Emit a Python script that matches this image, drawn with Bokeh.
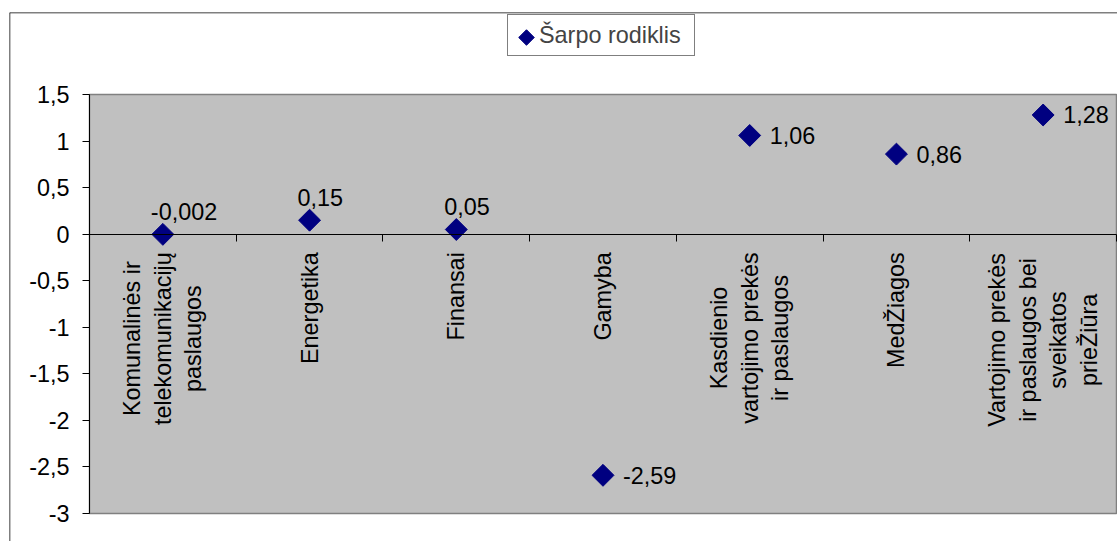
import math

from bokeh.core.properties import value
from bokeh.embed import file_html
from bokeh.models import (ColumnDataSource, CustomJSTickFormatter, FixedTicker, Legend,
                          LegendItem, LinearAxis, Range1d, Span)
from bokeh.plotting import figure
from bokeh.resources import INLINE

# ---- data -------------------------------------------------------------
categories = [
    "Komunalinės ir\ntelekomunikacijų\npaslaugos",
    "Energetika",
    "Finansai",
    "Gamyba",
    "Kasdienio\nvartojimo prekės\nir paslaugos",
    "MedŽiagos",
    "Vartojimo prekės\nir paslaugos bei\nsveikatos\nprieŽiūra",
]
sharpe = [-0.002, 0.15, 0.05, -2.59, 1.06, 0.86, 1.28]
label_side = ["above", "above", "above", "right", "right", "right", "right"]
y_ticks = [-3, -2.5, -2, -1.5, -1, -0.5, 0, 0.5, 1, 1.5]
series_name = "Šarpo rodiklis"

# ---- styling ----------------------------------------------------------
FONT = "Liberation Sans"
FS = 23.4
FS_TXT = f"{FS}px"
MARKER = "#000080"
PLOT_BG = "#C0C0C0"

W, H = 1117, 541
BORDER_L, BORDER_T = 9, 12

# Arial / Liberation Sans advance widths (1/1000 em), used to centre the
# rotated multi-line category labels line by line.
ADV = {
    " ": 278, "a": 556, "b": 556, "c": 500, "d": 556, "e": 556, "g": 556, "i": 222,
    "j": 222, "k": 500, "l": 222, "m": 833, "n": 556, "o": 556, "p": 556, "r": 333,
    "s": 500, "t": 278, "u": 556, "v": 500, "y": 500, "z": 500, "ė": 556, "ų": 556,
    "ū": 556, "ž": 500, "E": 667, "F": 611, "G": 778, "K": 667, "M": 833, "V": 667,
    "Ž": 611, "Š": 667,
}


def text_width(s):
    return sum(ADV.get(ch, 556) for ch in s) / 1000.0 * FS


n_cat = len(categories)
y_lo, y_hi = min(y_ticks), max(y_ticks)

# The frame spans the whole chart box; the grey plotting area sits inside it.
x_range = Range1d(-0.5453, n_cat + 0.0068)
y_range = Range1d(y_lo - 0.3007, y_hi + 0.8807)

p = figure(width=W, height=H, x_range=x_range, y_range=y_range,
           x_axis_type=None, y_axis_type=None, toolbar_location=None,
           output_backend="svg", min_border_left=BORDER_L, min_border_top=BORDER_T,
           min_border_right=0, min_border_bottom=0)
p.outline_line_color = None
p.background_fill_color = "white"
p.border_fill_color = "white"


def screen_to_data(sx, sy):
    """Frame pixel position -> data coordinates (used for the legend key)."""
    fw, fh = W - BORDER_L, H - BORDER_T
    dx = x_range.start + (sx - BORDER_L) / fw * (x_range.end - x_range.start)
    dy = y_range.end - (sy - BORDER_T) / fh * (y_range.end - y_range.start)
    return dx, dy


# chart box edges (left and top)
p.add_layout(Span(location=x_range.start, dimension="height", line_color="black", line_width=1.5))
p.add_layout(Span(location=y_range.end, dimension="width", line_color="black", line_width=1.5))

# grey plotting area
p.quad(left=0, right=n_cat, bottom=y_lo, top=y_hi, fill_color=PLOT_BG,
       line_color="#808080", line_width=1.5)

# value axis, crossing the category axis at x = 0
yaxis = LinearAxis(fixed_location=0, bounds=(y_lo, y_hi),
                   ticker=FixedTicker(ticks=y_ticks),
                   formatter=CustomJSTickFormatter(code="return tick.toString().replace('.', ',')"))
yaxis.axis_line_color = "black"
yaxis.axis_line_width = 1
yaxis.major_tick_line_color = "black"
yaxis.major_tick_in = 0
yaxis.major_tick_out = 7
yaxis.minor_tick_in = 0
yaxis.minor_tick_out = 0
yaxis.major_label_standoff = 13
yaxis.major_label_text_font = FONT
yaxis.major_label_text_font_size = FS_TXT
yaxis.major_label_text_color = "black"
p.add_layout(yaxis, "left")

# category axis at y = 0, ticks between categories
xaxis = LinearAxis(fixed_location=0, bounds=(0, n_cat),
                   ticker=FixedTicker(ticks=list(range(n_cat + 1))),
                   formatter=CustomJSTickFormatter(code="return ''"))
xaxis.axis_line_color = "black"
xaxis.axis_line_width = 1
xaxis.major_tick_line_color = "black"
xaxis.major_tick_in = 0
xaxis.major_tick_out = 7
xaxis.minor_tick_in = 0
xaxis.minor_tick_out = 0
p.add_layout(xaxis, "below")

# rotated category labels, lines centred on each other
LINE_STEP = 30.5
GAP = 18
cx, ctext, cxo, cyo = [], [], [], []
for i, cat in enumerate(categories):
    lines = cat.split("\n")
    longest = max(text_width(s) for s in lines)
    for j, line in enumerate(lines):
        cx.append(i + 0.5)
        ctext.append(line)
        cxo.append((j - (len(lines) - 1) / 2) * LINE_STEP)
        cyo.append(GAP + longest / 2)
cat_src = ColumnDataSource(dict(x=cx, y=[0] * len(cx), text=ctext, xo=cxo, yo=cyo))
p.text(x="x", y="y", text="text", x_offset="xo", y_offset="yo", source=cat_src,
       angle=math.pi / 2, text_align="center", text_baseline="middle",
       text_font=value(FONT), text_font_size=FS_TXT, text_color="black")

# series points (diamonds = squares turned by 45 degrees)
xs = [i + 0.5 for i in range(n_cat)]
labels = [str(v).replace(".", ",") for v in sharpe]
pts = ColumnDataSource(dict(x=xs, y=sharpe))
r = p.scatter("x", "y", source=pts, marker="square", angle=math.pi / 4, size=15.5,
              fill_color=MARKER, line_color=MARKER)

# value labels
above = ColumnDataSource(dict(
    x=[x for x, s in zip(xs, label_side) if s == "above"],
    y=[v for v, s in zip(sharpe, label_side) if s == "above"],
    text=[t for t, s in zip(labels, label_side) if s == "above"]))
right = ColumnDataSource(dict(
    x=[x for x, s in zip(xs, label_side) if s == "right"],
    y=[v for v, s in zip(sharpe, label_side) if s == "right"],
    text=[t for t, s in zip(labels, label_side) if s == "right"]))
p.text(x="x", y="y", text="text", source=above, x_offset=-12, y_offset=-23,
       text_align="left", text_baseline="alphabetic",
       text_font=value(FONT), text_font_size=FS_TXT, text_color="black")
p.text(x="x", y="y", text="text", source=right, x_offset=20, y_offset=0,
       text_align="left", text_baseline="middle",
       text_font=value(FONT), text_font_size=FS_TXT, text_color="black")

# ---- legend -----------------------------------------------------------
LEG_LEFT, LEG_TOP = 507, 16          # box position on the canvas
LEG_PAD, LEG_GLYPH_W, LEG_ITEM_H, LEG_STANDOFF = 6, 24, 28, 1
LEG_LABEL_W = 149

# the key is drawn as a turned square beneath a see-through legend box;
# the legend's own glyph slot stays empty
kx, ky = screen_to_data(LEG_LEFT + LEG_PAD + LEG_GLYPH_W / 2 + 1, LEG_TOP + LEG_PAD + LEG_ITEM_H / 2 + 1)
p.scatter(x=[kx], y=[ky], marker="square", angle=math.pi / 4, size=11,
          fill_color=MARKER, line_color=MARKER)

key_proxy = p.scatter(x=[], y=[], marker="square", fill_alpha=0, line_alpha=0)
legend = Legend(items=[LegendItem(label=series_name, renderers=[key_proxy])],
                location=(LEG_LEFT - BORDER_L, H - (LEG_TOP + 2 * LEG_PAD + LEG_ITEM_H)))
legend.border_line_color = "black"
legend.border_line_width = 1
legend.background_fill_alpha = 0
legend.padding = LEG_PAD
legend.margin = 0
legend.spacing = 0
legend.glyph_width = LEG_GLYPH_W
legend.glyph_height = LEG_ITEM_H
legend.label_height = LEG_ITEM_H
legend.label_width = LEG_LABEL_W
legend.label_standoff = LEG_STANDOFF
legend.label_text_font = FONT
legend.label_text_font_size = FS_TXT
legend.label_text_baseline = "middle"
p.add_layout(legend)

open("out.html", "w").write(file_html(p, INLINE))
